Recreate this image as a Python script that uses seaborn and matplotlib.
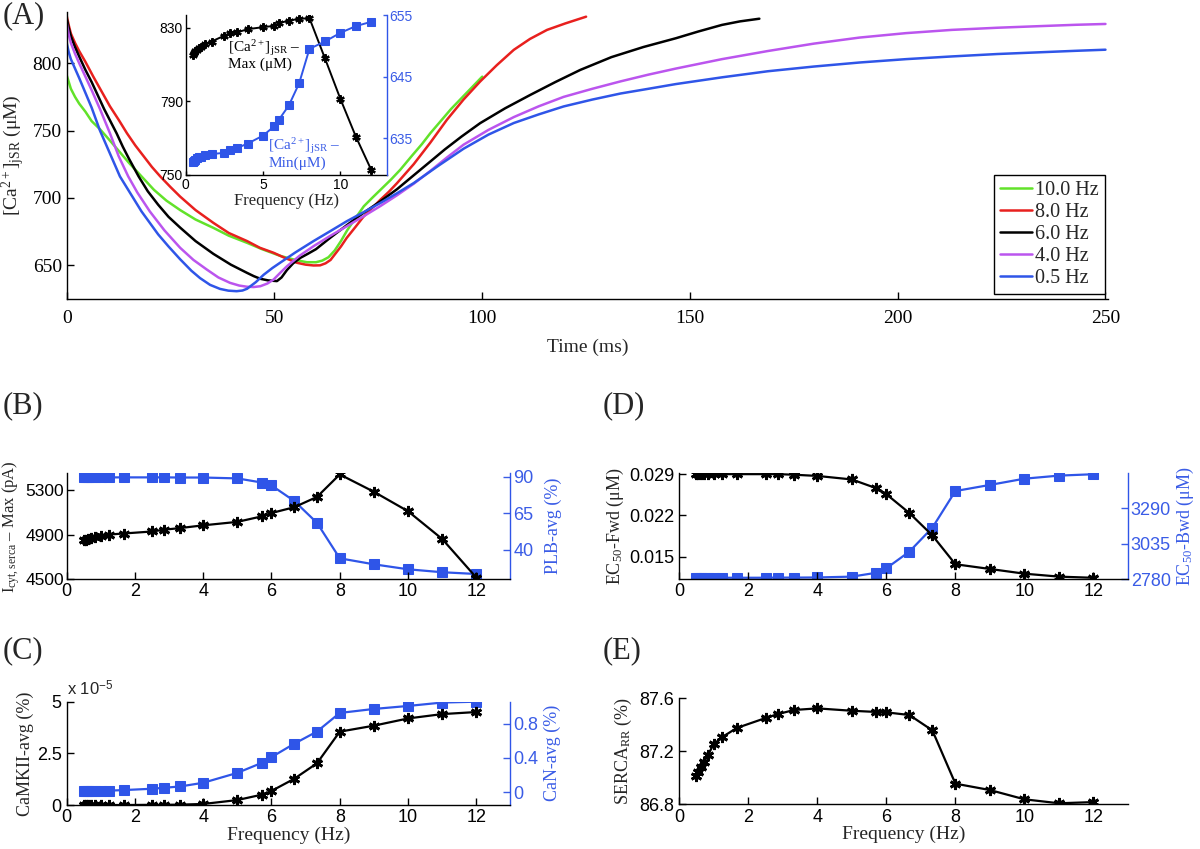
import numpy as np
import pandas as pd
import matplotlib
matplotlib.use("Agg")
import matplotlib.pyplot as plt
import seaborn as sns

# ---------------- data ----------------
# Panel A: [Ca2+]jSR transients (time ms, value uM)
t_10 = [0, 0.5, 1, 2, 3, 4.5, 6, 8, 10, 12.5, 15, 18, 21, 24, 27.3, 31, 35.3, 39, 43.4, 47,
        51.4, 55, 57.8, 60, 61.5, 63, 64.5, 66, 67.5, 69.5, 71.5, 73.5, 75.5, 78, 80.3, 83,
        85.5, 87.5, 90, 92.5, 95, 97.5, 100]
v_10 = [791, 786, 781, 775, 770, 764, 757, 751, 744, 735, 726, 716, 706, 698, 691, 684, 677.8,
        672, 666.7, 662, 657, 654, 652.3, 652.3, 653.5, 656, 661, 668, 676, 685, 693.8, 700,
        706, 713.5, 721, 731, 740, 748, 757, 766, 774, 782, 790]

t_8 = [0, 0.5, 1, 2, 3, 4.5, 6.4, 8.4, 10.4, 12.5, 14.5, 16.5, 18.5, 20.5, 22.5, 25, 27.3, 31,
       35.3, 39, 43.4, 46.5, 49.8, 52.5, 55.4, 57.5, 59.4, 61, 62.3, 63.5, 64.5, 66, 67.4,
       69.5, 71.4, 73.5, 75.5, 77.5, 79.5, 81.5, 83.5, 87.5, 91.5, 95.5, 99.5, 103.5, 107.6,
       111.5, 115.6, 120, 125]
v_8 = [835, 828, 822, 815, 809, 801, 790, 779, 768, 758, 748, 739, 731, 723, 716, 708, 701,
       691, 681.5, 674, 668, 663, 659.3, 655.5, 651.9, 650.5, 649.9, 650, 651.5, 654, 658, 664,
       670.4, 678.5, 686, 692.5, 698.7, 704.5, 711, 718, 725, 741, 758, 773, 786.4, 798.5,
       809.9, 818, 824.7, 829.5, 834.5]

t_6 = [0, 0.5, 1, 2, 3, 4.5, 6, 7.5, 9, 10.5, 12, 13.5, 15, 17.3, 19.5, 22, 24.5, 27.3, 31,
       35.3, 39.5, 43.4, 45, 46.6, 48.5, 50.6, 51.7, 53, 54.5, 56.2, 58, 60, 63.4, 67.5, 71.4,
       75.5, 79.5, 83, 87.5, 91, 95, 99.5, 105.5, 111.6, 117.6, 123.6, 131.1, 138.8, 146.6,
       152, 157.7, 162, 166.7]
v_6 = [833, 826, 820, 812, 805, 795, 786, 776, 766, 757, 748, 738, 729, 716, 705, 695, 686,
       678, 668, 658.5, 650.5, 644.4, 642, 640, 638.8, 638.3, 641, 646.5, 651.5, 655.5, 658.5,
       662, 670.4, 680, 688.9, 697.5, 706.5, 715.5, 727, 736, 745.5, 755.5, 766.5, 776.5, 786,
       795, 804.5, 812, 818.5, 823.5, 828.4, 831, 833]

t_4 = [0, 0.5, 1, 2, 3, 4.5, 6, 8, 10.4, 12.5, 14.8, 17, 20, 23.5, 27.3, 30.5, 33.7, 36.5,
       39.3, 41.5, 43.4, 45, 46.6, 48.3, 49.8, 51.4, 53, 56, 59.4, 63.5, 67.4, 71.5, 75.5,
       79.5, 83.5, 87.5, 91.5, 95.5, 101.5, 107.6, 113.6, 119.6, 126.5, 133.3, 140, 146.6,
       157.7, 168.7, 179.8, 190.8, 202, 213, 224, 235.1, 243, 250]
v_4 = [830, 821, 815, 807, 800, 790, 780, 766, 748, 731, 716, 704, 690, 676, 663, 654, 646.9,
       641, 637, 635, 634.1, 633.9, 634.5, 636.5, 639.5, 644.5, 649.3, 657, 664.2, 672, 679,
       686.5, 694, 702, 710.5, 720, 730, 739.5, 750.5, 760, 768, 775, 781, 786.5, 791.5, 796,
       803, 809, 814.5, 819, 822.3, 824.7, 826.3, 827.6, 828.5, 829.1]

t_05 = [0, 0.5, 1, 2, 3, 4.5, 6, 8, 10.4, 12.8, 15, 18, 22, 24.5, 27.3, 30, 32.1, 34.5, 36.9,
        38.9, 40.9, 42.3, 43.4, 45.5, 47.4, 49.5, 51.4, 55, 59.4, 63.5, 67.4, 71.5, 75.5,
        79.5, 83.5, 89.5, 95.5, 101.5, 107.6, 113.6, 119.6, 126.5, 133.3, 140, 146.6, 157.7,
        168.7, 179.8, 190.8, 202, 213, 224, 235.1, 243, 250]
v_05 = [815, 808, 803, 796, 789, 778, 767, 750, 733, 716, 705, 690, 673, 664, 654.5, 646,
        640.5, 635.5, 632.5, 631.2, 630.8, 631.3, 632.6, 637.5, 643, 648, 652, 659.5, 668,
        675.5, 682.7, 689.5, 696.3, 703.5, 711, 724, 736.5, 747, 755.6, 762, 767.9, 773, 777.5,
        781, 784.5, 789.5, 794, 797.5, 800.5, 803, 805, 806.8, 808.2, 809.2, 810]

series_labels = ["10.0 Hz", "8.0 Hz", "6.0 Hz", "4.0 Hz", "0.5 Hz"]
series_colors = ["#62e22a", "#e8201e", "#000000", "#bb55ee", "#2f55e8"]

# Frequency-dependence panels
freq = [0.5, 0.556, 0.625, 0.714, 0.833, 1.0, 1.25, 1.667, 2.5, 2.857, 3.333, 4.0, 5.0,
        5.714, 6.0, 6.667, 7.333, 8.0, 9.0, 10.0, 11.0, 12.0]
jsr_max = [815.3, 816.4, 817.3, 818.2, 819.0, 819.8, 821.3, 822.6, 825.8, 827.1, 827.6, 829.3,
           830.4, 831.1, 832.5, 834.0, 834.9, 835.3, 813.5, 791.4, 770.9, 752.7]
jsr_min = [631.1, 631.3, 631.5, 631.7, 631.9, 632.0, 632.2, 632.4, 632.6, 633.0, 633.4, 634.1,
           635.4, 636.9, 637.9, 640.3, 643.9, 649.5, 650.7, 652.1, 653.2, 653.9]
iserca_max = [4848, 4854, 4860, 4869, 4879, 4888, 4900, 4909, 4927, 4943, 4958, 4982, 5013,
              5062, 5092, 5144, 5236, 5437, 5282, 5108, 4860, 4515]
plb_avg = [89.5, 89.5, 89.5, 89.5, 89.5, 89.5, 89.5, 89.5, 89.5, 89.5, 89.4, 89.4, 88.8, 86.0,
           84.0, 73.4, 58.5, 34.3, 30.2, 26.8, 24.8, 23.6]
camkii_avg = [0.0, 0.0, 0.0, 0.0, 0.0, 0.0, 0.0, 0.0, 0.01e-5, 0.01e-5, 0.02e-5, 0.05e-5,
              0.24e-5, 0.5e-5, 0.68e-5, 1.27e-5, 2.02e-5, 3.55e-5, 3.84e-5, 4.19e-5, 4.4e-5,
              4.5e-5]
can_avg = [0.008, 0.009, 0.01, 0.011, 0.012, 0.014, 0.017, 0.023, 0.039, 0.05, 0.066, 0.109,
           0.225, 0.342, 0.41, 0.567, 0.71, 0.928, 0.975, 1.01, 1.05, 1.06]
ec50_fwd = [0.0290, 0.0290, 0.0290, 0.0290, 0.0290, 0.0290, 0.0290, 0.0290, 0.0290, 0.0290,
            0.0289, 0.0287, 0.0281, 0.0266, 0.0256, 0.0224, 0.0186, 0.0137, 0.0129, 0.0121,
            0.0116, 0.0114]
ec50_bwd = [2791, 2791, 2791, 2791, 2791, 2791, 2791, 2791, 2791, 2792, 2792, 2793, 2799, 2827,
            2859, 2979, 3151, 3415, 3459, 3504, 3526, 3536]
serca_rr = [87.016, 87.046, 87.084, 87.121, 87.171, 87.255, 87.308, 87.376, 87.451, 87.481,
            87.512, 87.524, 87.506, 87.497, 87.494, 87.474, 87.358, 86.956, 86.908, 86.838,
            86.808, 86.817]

# ---------------- style ----------------
sns.set_style("ticks")
plt.rcParams["font.family"] = ["Liberation Sans", "DejaVu Sans"]
plt.rcParams["mathtext.fontset"] = "custom"
plt.rcParams["mathtext.rm"] = "Liberation Serif"
plt.rcParams["mathtext.it"] = "Liberation Serif:italic"
plt.rcParams["mathtext.bf"] = "Liberation Serif:bold"
plt.rcParams["mathtext.sf"] = "Liberation Sans"
SERIF = ["Liberation Serif", "DejaVu Serif"]
SANS = ["Liberation Sans", "DejaVu Sans"]
BLUE = "#2f55e8"
BLUE_T = "#3a5ce6"
AST = (6, 2, 0)

fig = plt.figure(figsize=(12, 8.49), dpi=100)


def base_style(ax, serif_ticks=False, size=13):
    for s in ["top", "right"]:
        ax.spines[s].set_visible(False)
    for s in ["left", "bottom"]:
        ax.spines[s].set_linewidth(1.0)
        ax.spines[s].set_color("black")
    ax.tick_params(direction="in", length=5, width=1, labelsize=size,
                   labelfontfamily=SERIF if serif_ticks else SANS, colors="black")


def right_style(ax2, size=13):
    for s in ["top", "left", "bottom"]:
        ax2.spines[s].set_visible(False)
    ax2.spines["right"].set_color(BLUE)
    ax2.spines["right"].set_linewidth(1.0)
    ax2.tick_params(axis="y", direction="in", length=5, width=1, labelsize=size,
                    colors=BLUE_T, labelfontfamily=SANS, pad=2)


# ---------------- Panel A ----------------
axA = fig.add_axes([0.0556, 0.6478, 0.8677, 0.3381])
curves = [(t_10, v_10), (t_8, v_8), (t_6, v_6), (t_4, v_4), (t_05, v_05)]
for (tt, vv), lab, col in zip(curves, series_labels, series_colors):
    sns.lineplot(x=tt, y=vv, ax=axA, color=col, linewidth=1.8, label=lab, sort=False)
base_style(axA, serif_ticks=True, size=14)
axA.set_xlim(0, 250.6)
axA.set_ylim(625, 838)
axA.set_xticks([0, 50, 100, 150, 200, 250])
axA.set_yticks([650, 700, 750, 800])
axA.tick_params(axis="x", pad=8)
axA.set_xlabel("Time (ms)", fontfamily=SERIF, fontsize=14, labelpad=8)
axA.set_ylabel("[Ca$^{2+}$]$_{\\rm jSR}$ (μM)", fontfamily=SERIF, fontsize=14, labelpad=4)
leg = axA.legend(loc="lower right", bbox_to_anchor=(0.997, 0.017), borderaxespad=0,
                 prop={"family": SERIF, "size": 14.5}, frameon=True, fancybox=False,
                 handlelength=1.6, handletextpad=0.15, labelspacing=0.14,
                 borderpad=0.3)
leg.get_frame().set_edgecolor("black")
leg.get_frame().set_linewidth(1.0)
leg.get_frame().set_alpha(1)
fig.text(0.002, 0.982, "(A)", fontfamily=SERIF, fontsize=22, va="center", ha="left")

# inset
axI = fig.add_axes([0.1548, 0.7939, 0.1675, 0.1884])
axI.set_facecolor("white")
sns.lineplot(x=freq, y=jsr_max, ax=axI, color="black", linewidth=1.4, marker=AST,
             markersize=6, markeredgewidth=1.6, markeredgecolor="black")
base_style(axI, size=10)
axI.set_xlim(0, 13)
axI.set_ylim(750, 837)
axI.set_xticks([0, 5, 10])
axI.set_yticks([750, 790, 830])
axI.tick_params(length=3, pad=2)
axI.set_xlabel("Frequency (Hz)", fontfamily=SERIF, fontsize=12, labelpad=1)
axI.text(2.75, 824.5, "[Ca$^{2+}$]$_{\\rm jSR}$ –\nMax (μM)", fontfamily=SERIF, fontsize=11,
         va="top", ha="left", color="black", linespacing=1.0)
axI2 = axI.twinx()
sns.lineplot(x=freq, y=jsr_min, ax=axI2, color=BLUE, linewidth=1.4, marker="s",
             markersize=5.5, markeredgecolor=BLUE)
right_style(axI2, size=10)
axI2.set_ylim(629, 655)
axI2.set_yticks([635, 645, 655])
axI2.tick_params(length=3)
axI2.set_ylabel("")
axI.text(5.35, 771, "[Ca$^{2+}$]$_{\\rm jSR}$ –\nMin(μM)", fontfamily=SERIF, fontsize=11,
         va="top", ha="left", color=BLUE_T, linespacing=1.0)


def freq_panel(rect, yleft, yright=None):
    ax = fig.add_axes(rect)
    sns.lineplot(x=freq, y=yleft, ax=ax, color="black", linewidth=1.6, marker=AST,
                 markersize=8, markeredgewidth=2.0, markeredgecolor="black")
    base_style(ax, size=13)
    ax.set_xlim(0, 13)
    ax.set_xticks([0, 2, 4, 6, 8, 10, 12])
    ax.tick_params(axis="x", pad=3)
    ax2 = None
    if yright is not None:
        ax2 = ax.twinx()
        sns.lineplot(x=freq, y=yright, ax=ax2, color=BLUE, linewidth=1.6, marker="s",
                     markersize=7, markeredgecolor=BLUE)
        right_style(ax2, size=13)
        ax2.set_zorder(ax.get_zorder() - 1)
        ax.patch.set_visible(False)
    return ax, ax2


# ---------------- Panel B ----------------
axB, axB2 = freq_panel([0.0555, 0.3177, 0.3699, 0.1252], iserca_max, plb_avg)
axB.set_ylim(4500, 5450)
axB.set_yticks([4500, 4900, 5300])
axB.tick_params(axis="y", pad=2, labelsize=12.5)
axB2.set_ylim(20, 92.5)
axB2.set_yticks([40, 65, 90])
axB.set_ylabel("I$_{\\rm cyt,serca}$ – Max (pA)", fontfamily=SERIF, fontsize=12)
axB.yaxis.set_label_coords(-0.1, 0.5)
axB2.set_ylabel("PLB-avg (%)", fontfamily=SERIF, fontsize=13, color=BLUE_T, labelpad=8)
fig.text(0.002, 1 - 406 / 849, "(B)", fontfamily=SERIF, fontsize=22, va="center", ha="left")

# ---------------- Panel C ----------------
axC, axC2 = freq_panel([0.0555, 0.0518, 0.3699, 0.1217], camkii_avg, can_avg)
axC.set_ylim(0, 5e-5)
axC.set_yticks([0, 2.5e-5, 5e-5])
axC.set_yticklabels(["0", "2.5", "5"])
axC2.set_ylim(-0.152, 1.06)
axC2.set_yticks([0, 0.4, 0.8])
axC2.set_yticklabels(["0", "0.4", "0.8"])
axC.set_ylabel("CaMKII-avg (%)", fontfamily=SERIF, fontsize=13, labelpad=2)
axC2.set_ylabel("CaN-avg (%)", fontfamily=SERIF, fontsize=13, color=BLUE_T, labelpad=4)
axC.set_xlabel("Frequency (Hz)", fontfamily=SERIF, fontsize=14, labelpad=0)
axC.text(0.0, 1.03, "x 10$^{\\mathsf{-5}}$", transform=axC.transAxes, fontsize=12,
         fontfamily=SANS, va="bottom", ha="left")
fig.text(0.002, 1 - 651 / 849, "(C)", fontfamily=SERIF, fontsize=22, va="center", ha="left")

# ---------------- Panel D ----------------
axD, axD2 = freq_panel([0.566, 0.3177, 0.374, 0.1252], ec50_fwd, ec50_bwd)
axD.set_ylim(0.01115, 0.0292)
axD.set_yticks([0.015, 0.022, 0.029])
axD.set_yticklabels(["0.015", "0.022", "0.029"])
axD2.set_ylim(2780, 3545)
axD2.set_yticks([2780, 3035, 3290])
axD.set_ylabel("EC$_{50}$-Fwd (μM)", fontfamily=SERIF, fontsize=13, labelpad=2)
axD2.set_ylabel("EC$_{50}$-Bwd (μM)", fontfamily=SERIF, fontsize=13, color=BLUE_T, labelpad=3)
fig.text(0.502, 1 - 406 / 849, "(D)", fontfamily=SERIF, fontsize=22, va="center", ha="left")

# ---------------- Panel E ----------------
axE, _ = freq_panel([0.566, 0.0526, 0.374, 0.1249], serca_rr)
axE.set_ylim(86.8, 87.6)
axE.set_yticks([86.8, 87.2, 87.6])
axE.set_yticklabels(["86.8", "87.2", "87.6"])
axE.set_ylabel("SERCA$_{\\rm RR}$ (%)", fontfamily=SERIF, fontsize=13, labelpad=4)
axE.set_xlabel("Frequency (Hz)", fontfamily=SERIF, fontsize=14, labelpad=0)
fig.text(0.502, 1 - 651 / 849, "(E)", fontfamily=SERIF, fontsize=22, va="center", ha="left")

fig.savefig("out.png", dpi=100, facecolor="white")
